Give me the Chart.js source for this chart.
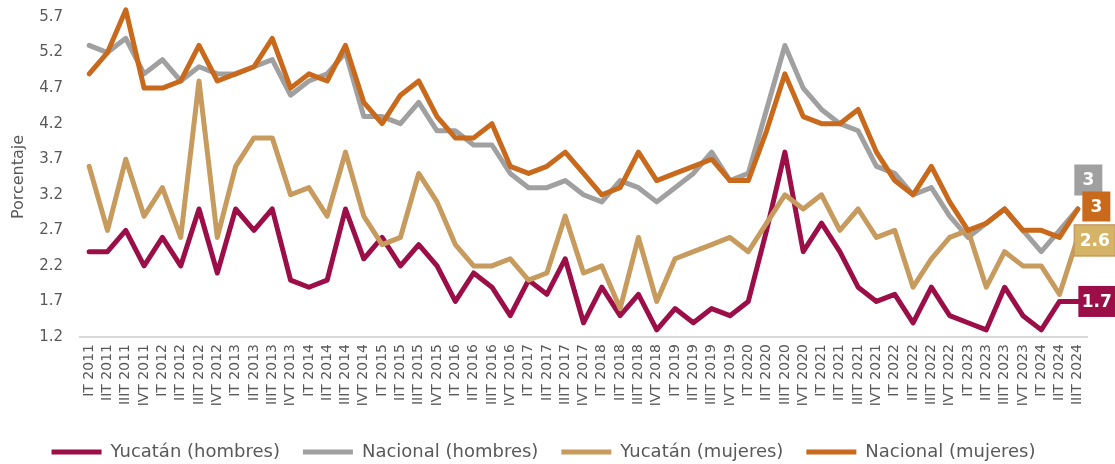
<!DOCTYPE html>
<html>
<head>
<meta charset="utf-8">
<script src="https://cdn.jsdelivr.net/npm/chart.js@4.4.1/dist/chart.umd.min.js"></script>
<style>
  html, body { margin: 0; padding: 0; background: #ffffff; }
  #contenedor { width: 1115px; height: 464px; position: relative; }
</style>
</head>
<body>
<div id="contenedor"><canvas id="desocupacion"></canvas></div>
<script>

const trimestres = [
    'IT 2011','IIT 2011','IIIT 2011','IVT 2011',
    'IT 2012','IIT 2012','IIIT 2012','IVT 2012',
    'IT 2013','IIT 2013','IIIT 2013','IVT 2013',
    'IT 2014','IIT 2014','IIIT 2014','IVT 2014',
    'IT 2015','IIT 2015','IIIT 2015','IVT 2015',
    'IT 2016','IIT 2016','IIIT 2016','IVT 2016',
    'IT 2017','IIT 2017','IIIT 2017','IVT 2017',
    'IT 2018','IIT 2018','IIIT 2018','IVT 2018',
    'IT 2019','IIT 2019','IIIT 2019','IVT 2019',
    'IT 2020','IIT 2020','IIIT 2020','IVT 2020',
    'IT 2021','IIT 2021','IIIT 2021','IVT 2021',
    'IT 2022','IIT 2022','IIIT 2022','IVT 2022',
    'IT 2023','IIT 2023','IIIT 2023','IVT 2023',
    'IT 2024','IIT 2024','IIIT 2024'
];

const yucatanHombres = [
    2.4,2.4,2.7,2.2, 2.6,2.2,3.0,2.1, 3.0,2.7,3.0,2.0, 1.9,2.0,3.0,2.3,
    2.6,2.2,2.5,2.2, 1.7,2.1,1.9,1.5, 2.0,1.8,2.3,1.4, 1.9,1.5,1.8,1.3,
    1.6,1.4,1.6,1.5, 1.7,2.7,3.8,2.4, 2.8,2.4,1.9,1.7, 1.8,1.4,1.9,1.5,
    1.4,1.3,1.9,1.5, 1.3,1.7,1.7
];
const nacionalHombres = [
    5.3,5.2,5.4,4.9, 5.1,4.8,5.0,4.9, 4.9,5.0,5.1,4.6, 4.8,4.9,5.2,4.3,
    4.3,4.2,4.5,4.1, 4.1,3.9,3.9,3.5, 3.3,3.3,3.4,3.2, 3.1,3.4,3.3,3.1,
    3.3,3.5,3.8,3.4, 3.5,4.4,5.3,4.7, 4.4,4.2,4.1,3.6, 3.5,3.2,3.3,2.9,
    2.6,2.8,3.0,2.7, 2.4,2.7,3.0
];
const yucatanMujeres = [
    3.6,2.7,3.7,2.9, 3.3,2.6,4.8,2.6, 3.6,4.0,4.0,3.2, 3.3,2.9,3.8,2.9,
    2.5,2.6,3.5,3.1, 2.5,2.2,2.2,2.3, 2.0,2.1,2.9,2.1, 2.2,1.6,2.6,1.7,
    2.3,2.4,2.5,2.6, 2.4,2.8,3.2,3.0, 3.2,2.7,3.0,2.6, 2.7,1.9,2.3,2.6,
    2.7,1.9,2.4,2.2, 2.2,1.8,2.6
];
const nacionalMujeres = [
    4.9,5.2,5.8,4.7, 4.7,4.8,5.3,4.8, 4.9,5.0,5.4,4.7, 4.9,4.8,5.3,4.5,
    4.2,4.6,4.8,4.3, 4.0,4.0,4.2,3.6, 3.5,3.6,3.8,3.5, 3.2,3.3,3.8,3.4,
    3.5,3.6,3.7,3.4, 3.4,4.1,4.9,4.3, 4.2,4.2,4.4,3.8, 3.4,3.2,3.6,3.1,
    2.7,2.8,3.0,2.7, 2.7,2.6,3.0
];

const nombres = ['Yucatán (hombres)','Nacional (hombres)','Yucatán (mujeres)','Nacional (mujeres)'];
const colores = ['#9b0e47','#a0a0a0','#c79a5d','#c8691c'];

const fuente = "'DejaVu Sans', sans-serif";
const gris = '#595959';

// cajas de la etiqueta del ultimo valor (desplazamiento respecto al punto)
const cajas = [
    {dx: 19, dy: 0, w: 37, h: 31, fondo: '#9b0e47', borde: null},
    {dx: 10.5, dy: -29, w: 28, h: 31, fondo: '#a0a0a0', borde: null},
    {dx: 17, dy: 3, w: 41, h: 31, fondo: '#d5b468', borde: '#c79a5d'},
    {dx: 18.5, dy: -2.5, w: 28, h: 30, fondo: '#c8691c', borde: null}
];

const etiquetasFinales = {
    id: 'etiquetasFinales',
    afterDatasetsDraw(chart){
        const ctx = chart.ctx;
        ctx.save();
        chart.data.datasets.forEach((ds, i) => {
            const meta = chart.getDatasetMeta(i);
            const pt = meta.data[meta.data.length - 1];
            const c = cajas[i];
            const cx = pt.x + c.dx;
            const cy = pt.y + c.dy;
            ctx.fillStyle = c.fondo;
            ctx.fillRect(cx - c.w/2, cy - c.h/2, c.w, c.h);
            if(c.borde){
                ctx.strokeStyle = c.borde;
                ctx.lineWidth = 1.5;
                ctx.strokeRect(cx - c.w/2, cy - c.h/2, c.w, c.h);
            }
            ctx.fillStyle = '#ffffff';
            ctx.font = "bold 17px " + fuente;
            ctx.textAlign = 'center';
            ctx.textBaseline = 'middle';
            ctx.fillText(String(ds.data[ds.data.length - 1]), cx, cy + 1);
        });
        ctx.restore();
    }
};

function serie(idx, valores){
    return {
        label: nombres[idx],
        data: valores,
        borderColor: colores[idx],
        backgroundColor: colores[idx],
        borderWidth: 5,
        borderJoinStyle: 'round',
        borderCapStyle: 'round',
        pointRadius: 0,
        tension: 0,
        clip: false,
        order: 4 - idx
    };
}

const grafica = new Chart(document.getElementById('desocupacion'), {
    type: 'line',
    data: {
        labels: trimestres,
        datasets: [
            serie(0, yucatanHombres),
            serie(1, nacionalHombres),
            serie(2, yucatanMujeres),
            serie(3, nacionalMujeres)
        ]
    },
    options: {
        responsive: true,
        maintainAspectRatio: false,
        animation: false,
        layout: {
            padding: {top: 17, right: 28, left: 0, bottom: 0}
        },
        scales: {
            x: {
                offset: true,
                grid: {display: false, drawTicks: false},
                border: {display: true, color: '#d9d9d9', width: 2},
                ticks: {
                    autoSkip: false,
                    maxRotation: 90,
                    minRotation: 90,
                    padding: 7,
                    color: gris,
                    font: {family: fuente, size: 14}
                },
                afterFit: function(scale){
                    scale.height = 83;
                }
            },
            y: {
                min: 1.2,
                max: 5.7,
                grid: {display: false, drawTicks: false},
                border: {display: false},
                ticks: {
                    stepSize: 0.5,
                    padding: 17,
                    color: gris,
                    font: {family: fuente, size: 15},
                    callback: function(val){
                        return val.toFixed(1);
                    }
                },
                title: {
                    display: true,
                    text: 'Porcentaje',
                    color: gris,
                    font: {family: fuente, size: 16},
                    padding: {top: 9, bottom: 0}
                },
                afterFit: function(scale){
                    scale.width = 80;
                    // el padding de los ticks no debe empujar el area hacia abajo
                    scale.paddingTop = 8;
                    scale.paddingBottom = 8;
                }
            }
        },
        plugins: {
            legend: {
                position: 'bottom',
                maxHeight: 44,
                labels: {
                    usePointStyle: true,
                    pointStyle: 'line',
                    pointStyleWidth: 50,
                    color: gris,
                    padding: 23,
                    font: {family: fuente, size: 18},
                    sort: (a, b) => a.datasetIndex - b.datasetIndex
                }
            },
            tooltip: {enabled: false}
        }
    },
    plugins: [etiquetasFinales]
});
</script>
</body>
</html>
